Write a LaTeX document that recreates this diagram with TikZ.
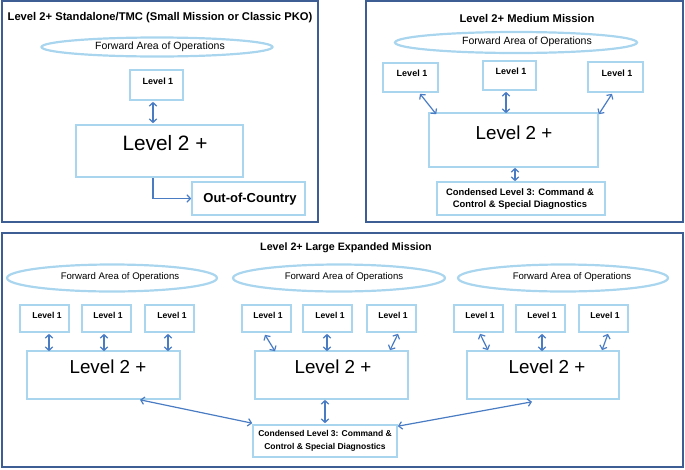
\documentclass[tikz,border=0pt]{standalone}
\usepackage{fontspec}
\setmainfont{Liberation Sans}
\usetikzlibrary{arrows.meta,calc,shapes.geometric}
\definecolor{frameblue}{HTML}{3C5E94}
\definecolor{boxblue}{HTML}{A9D5EE}
\definecolor{arrblue}{HTML}{4A7CC4}
\tikzset{
  panel/.style={draw=frameblue,line width=2pt},
  fao/.style={ellipse,draw=boxblue,line width=2.2pt,inner sep=0pt},
  lbox/.style={draw=boxblue,line width=1.6pt,inner sep=0pt},
  txt/.style={inner sep=0pt,text=black},
  dbl/.style={draw=arrblue,line width=1.2pt,{Straight Barb[length=3.5pt,width=7.5pt]}-{Straight Barb[length=3.5pt,width=7.5pt]}},
  sgl/.style={draw=arrblue,line width=1.2pt,-{Straight Barb[length=3.5pt,width=7.5pt]}},
  ttlA/.style={txt,font=\fontsize{11.2}{13}\selectfont\bfseries},
  ttlB/.style={txt,font=\fontsize{10.7}{13}\selectfont\bfseries},
  faoA/.style={txt,font=\fontsize{10.5}{12}\selectfont},
  faoB/.style={txt,font=\fontsize{9.6}{11}\selectfont},
  oneA/.style={txt,font=\fontsize{9}{11}\selectfont\bfseries},
  oneB/.style={txt,font=\fontsize{8.6}{10}\selectfont\bfseries},
  twoA/.style={txt,font=\fontsize{20.8}{24}\selectfont},
  twoB/.style={txt,font=\fontsize{18.8}{22}\selectfont},
  ooc/.style={txt,font=\fontsize{13}{15}\selectfont\bfseries},
  condA/.style={txt,align=center,font=\fontsize{9.4}{12.2}\selectfont\bfseries},
  condB/.style={txt,align=center,font=\fontsize{8.5}{12.8}\selectfont\bfseries},
}
\begin{document}
\begin{tikzpicture}[x=1pt,y=-1pt]
\useasboundingbox (0,0) rectangle (685,469);
% panel frames
\draw[panel] (2,1) rectangle (318,222);
\draw[panel] (366,1) rectangle (683,222);
\draw[panel] (2,233) rectangle (683,467);

% ---------- Panel 1 ----------
\node[ttlA] (t1) at (160,18) {Level 2+ Standalone/TMC (Small Mission or Classic PKO)};
\node[fao,minimum width=231pt,minimum height=19pt] (e1) at (157,47) {};
\node[faoA] at (160,47) {Forward Area of Operations};
\node[lbox,minimum width=53pt,minimum height=30pt] (a1) at (156.5,85) {};
\node[oneA] at (158,81) {Level 1};
\node[lbox,minimum width=167pt,minimum height=52pt] (A) at (159.5,151) {};
\node[twoA] at (165,143) {Level 2 +};
\node[lbox,minimum width=113pt,minimum height=33pt] (O) at (248.5,198.5) {};
\node[ooc] at (250,199) {Out-of-Country};
\draw[dbl] ($(a1.south)+(-3.5,1)$) -- ($(A.north)+(-6.5,-1)$);
\draw[sgl] ($(A.south)+(-6.5,0)$) |- (O.west);

% ---------- Panel 2 ----------
\node[ttlA] (t2) at (527,18) {Level 2+ Medium Mission};
\node[fao,minimum width=242pt,minimum height=21pt] (e2) at (516,42.5) {};
\node[faoA] at (527,42) {Forward Area of Operations};
\node[lbox,minimum width=55pt,minimum height=29pt] (m1) at (410.5,77.5) {};
\node[oneA] at (412,73) {Level 1};
\node[lbox,minimum width=53pt,minimum height=29pt] (m2) at (509.5,75.5) {};
\node[oneA] at (511,71) {Level 1};
\node[lbox,minimum width=55pt,minimum height=30pt] (m3) at (615.5,77) {};
\node[oneA] at (617,73) {Level 1};
\node[lbox,minimum width=169pt,minimum height=54pt] (M) at (513.5,140) {};
\node[twoB] at (514,133) {Level 2 +};
\node[lbox,minimum width=168pt,minimum height=33pt] (C2) at (521,198.5) {};
\node[condA] at (520,199) {Condensed Level 3: Command \&\\Control \& Special Diagnostics};
\draw[dbl] ($(m1.south)+(9.5,1)$) -- ($(M.north west)+(8,2)$);
\draw[dbl] ($(m2.south)+(-3.5,1)$) -- ($(M.north)+(-7.5,1)$);
\draw[dbl] ($(m3.south)+(-3.5,1)$) -- ($(M.north east)+(0,2)$);
\draw[dbl] ($(M.south)+(1.5,0)$) -- ($(C2.north)+(-6,0)$);

% ---------- Panel 3 ----------
\node[ttlB] (t3) at (346,248) {Level 2+ Large Expanded Mission};
\node[fao,minimum width=210pt,minimum height=27pt] (f1) at (112,278) {};
\node[faoB] at (120,277) {Forward Area of Operations};
\node[fao,minimum width=212pt,minimum height=27pt] (f2) at (339,278) {};
\node[faoB] at (344,277) {Forward Area of Operations};
\node[fao,minimum width=210pt,minimum height=27pt] (f3) at (563,278) {};
\node[faoB] at (572,277) {Forward Area of Operations};

\foreach \n/\cx/\tx in {g1/44.5/47, g2/106.5/108, g3/169.5/172,
                       h1/266.5/268, h2/327.5/330, h3/391.5/393,
                       k1/478.5/480, k2/540.5/542, k3/603.5/605}{
  \node[lbox,minimum width=49pt,minimum height=27pt] (\n) at (\cx,318.5) {};
  \node[oneB] at (\tx,315) {Level 1};
}
\node[lbox,minimum width=153pt,minimum height=48pt] (B1) at (103.5,375) {};
\node[twoB] at (108,367) {Level 2 +};
\node[lbox,minimum width=153pt,minimum height=48pt] (B2) at (331.5,375) {};
\node[twoB] at (333,367) {Level 2 +};
\node[lbox,minimum width=152pt,minimum height=48pt] (B3) at (543,375) {};
\node[twoB] at (547,367) {Level 2 +};
\node[lbox,minimum width=144pt,minimum height=32pt] (C3) at (325,441) {};
\node[condB] at (325,440.5) {Condensed Level 3: Command \&\\Control \& Special Diagnostics};

\draw[dbl] ($(g1.south)+(4.5,1)$) -- ($(B1.north)+(-54.5,1)$);
\draw[dbl] ($(g2.south)+(-2.5,1)$) -- ($(B1.north)+(0.5,1)$);
\draw[dbl] ($(g3.south)+(-1.5,1)$) -- ($(B1.north)+(64.5,1)$);
\draw[dbl] ($(h1.south)+(-1.5,2)$) -- ($(B2.north)+(-56.5,1)$);
\draw[dbl] ($(h2.south)+(-0.5,1)$) -- ($(B2.north)+(-4.5,1)$);
\draw[dbl] ($(h3.south)+(6.5,1)$) -- ($(B2.north)+(58.5,0)$);
\draw[dbl] ($(k1.south)+(1.5,1)$) -- ($(B3.north)+(-55,0)$);
\draw[dbl] ($(k2.south)+(1.5,1)$) -- ($(B3.north)+(-1,1)$);
\draw[dbl] ($(k3.south)+(4.5,1)$) -- ($(B3.north)+(59,0)$);
\draw[dbl] ($(B2.south)+(-6.5,0)$) -- ($(C3.north)+(0,-1)$);
\draw[dbl] ($(B1.south)+(36.5,0)$) -- ($(C3.north west)+(0,-1)$);
\draw[dbl] ($(B3.south)+(-11,2)$) -- ($(C3.north east)+(0,2)$);
\end{tikzpicture}
\end{document}
